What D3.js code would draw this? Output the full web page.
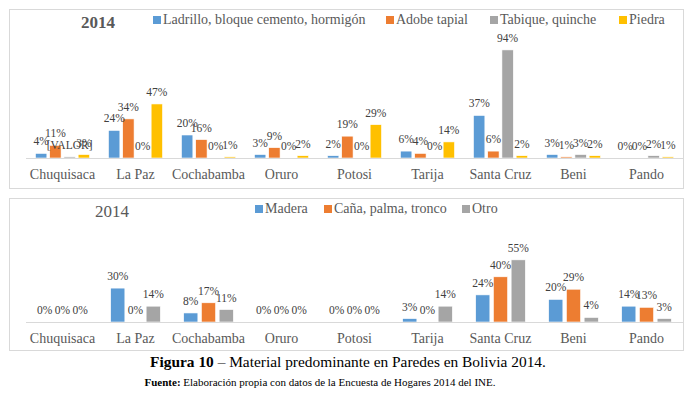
<!DOCTYPE html>
<html>
<head>
<meta charset="utf-8">
<script src="https://cdn.jsdelivr.net/npm/d3@7"></script>
<style>
  body { margin: 0; background: #fff; }
  text { font-family: "Liberation Serif", "Times New Roman", serif; }
</style>
</head>
<body>
<svg id="fig" width="696" height="395"></svg>
<script>
const categories = ["Chuquisaca", "La Paz", "Cochabamba", "Oruro", "Potosi", "Tarija", "Santa Cruz", "Beni", "Pando"]

// top chart: wall materials
const topSeries = ["Ladrillo, bloque cemento, hormigón", "Adobe tapial", "Tabique, quinche", "Piedra"]
const ladrillo = [4, 24, 20, 3, 2, 6, 37, 3, 0]
const adobe = [11, 34, 16, 9, 19, 4, 6, 1, 0]
const tabique = [1, 0, 0, 0, 0, 0, 94, 3, 2]
const piedra = [3, 47, 1, 2, 29, 14, 2, 2, 1]
const topColors = ["#5b9bd5", "#ed7d31", "#a5a5a5", "#ffc000"]

// bottom chart
const bottomSeries = ["Madera", "Caña, palma, tronco", "Otro"]
const madera = [0, 30, 8, 0, 0, 3, 24, 20, 14]
const cana = [0, 0, 17, 0, 0, 0, 40, 29, 13]
const otro = [0, 14, 11, 0, 0, 14, 55, 4, 3]
const bottomColors = ["#5b9bd5", "#ed7d31", "#a5a5a5"]

// label overrides (as printed in the source)
const labelOverride = {"top-2-0": "[VALOR]"}

const svg = d3.select("#fig")

function panel(opts) {
  const g = svg.append("g")
  g.append("rect")
    .attr("x", 9.5).attr("y", opts.top + 0.5)
    .attr("width", 674).attr("height", opts.height)
    .attr("fill", "#fff").attr("stroke", "#d9d9d9")

  const x = d3.scaleBand().domain(categories).range([26, 683])
  const y = d3.scaleLinear().domain([0, 100]).range([opts.base, opts.base - opts.pxPer100])
  const groupW = x.bandwidth() * opts.groupFrac
  const xs = d3.scaleBand().domain(d3.range(opts.series.length))
    .range([0, groupW]).paddingInner(0.2)

  const rows = []
  opts.values.forEach((vals, si) => {
    vals.forEach((v, ci) => rows.push({si, ci, v}))
  })
  const bx = d => x(categories[d.ci]) + (x.bandwidth() - groupW) / 2 + xs(d.si)

  g.selectAll("rect.bar").data(rows).join("rect")
    .attr("class", "bar")
    .attr("x", bx)
    .attr("y", d => y(d.v))
    .attr("width", xs.bandwidth())
    .attr("height", d => opts.base - y(d.v))
    .attr("fill", d => opts.colors[d.si])
    .attr("stroke", "#fff").attr("stroke-width", 0.6)

  g.append("line")
    .attr("x1", 26).attr("x2", 683)
    .attr("y1", opts.base + 0.5).attr("y2", opts.base + 0.5)
    .attr("stroke", "#d9d9d9")

  g.selectAll("text.lbl").data(rows).join("text")
    .attr("class", "lbl")
    .attr("x", d => bx(d) + xs.bandwidth() / 2)
    .attr("y", d => y(d.v) - 8)
    .attr("text-anchor", "middle")
    .attr("font-size", 11.5)
    .attr("fill", "#404040")
    .text(d => labelOverride[`${opts.key}-${d.si}-${d.ci}`] || `${d.v}%`)

  g.selectAll("text.cat").data(categories).join("text")
    .attr("class", "cat")
    .attr("x", d => x(d) + x.bandwidth() / 2)
    .attr("y", opts.base + 21)
    .attr("text-anchor", "middle")
    .attr("font-size", 14)
    .attr("fill", "#595959")
    .text(d => d)

  g.append("text")
    .attr("x", opts.titleX).attr("y", opts.top + 19)
    .attr("text-anchor", "middle")
    .attr("font-size", 17)
    .attr("font-weight", opts.titleBold ? "bold" : "normal")
    .attr("fill", "#595959")
    .text("2014")

  const leg = g.selectAll("g.leg").data(opts.series).join("g")
    .attr("class", "leg")
    .attr("transform", (d, i) => `translate(${opts.legendX[i]},${opts.top + opts.legendDy})`)
  leg.append("rect")
    .attr("x", 0).attr("y", -7).attr("width", 8).attr("height", 8)
    .attr("fill", (d, i) => opts.colors[i])
  leg.append("text")
    .attr("x", 10).attr("y", 1)
    .attr("font-size", 14)
    .attr("fill", "#595959")
    .text(d => d)
}

panel({
  key: "top", top: 9, height: 179, base: 158, pxPer100: 115, groupFrac: 0.74,
  series: topSeries, values: [ladrillo, adobe, tabique, piedra], colors: topColors,
  titleX: 98, titleBold: true, legendX: [153, 386, 490, 619], legendDy: 14
})

panel({
  key: "bottom", top: 198, height: 152, base: 322, pxPer100: 113, groupFrac: 0.68,
  series: bottomSeries, values: [madera, cana, otro], colors: bottomColors,
  titleX: 112, titleBold: false, legendX: [255, 324, 462], legendDy: 14
})

const cap = svg.append("text")
  .attr("x", 348).attr("y", 367)
  .attr("text-anchor", "middle")
  .attr("font-size", 15.4)
  .attr("fill", "#000")
cap.append("tspan").attr("font-weight", "bold").text("Figura 10")
cap.append("tspan").text(" – Material predominante en Paredes en Bolivia 2014.")

const src = svg.append("text")
  .attr("x", 320).attr("y", 386)
  .attr("text-anchor", "middle")
  .attr("font-size", 11)
  .attr("fill", "#000")
src.append("tspan").attr("font-weight", "bold").text("Fuente:")
src.append("tspan").text(" Elaboración propia con datos de la Encuesta de Hogares 2014 del INE.")
</script>
</body>
</html>
